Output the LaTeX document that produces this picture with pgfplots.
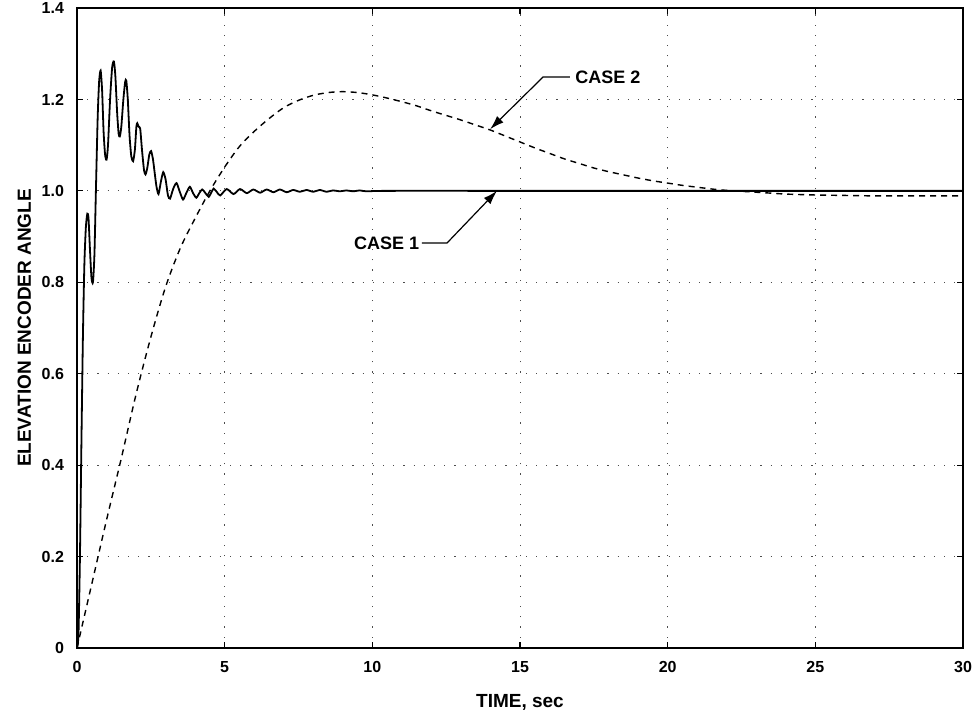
\documentclass[border=0pt]{standalone}
\usepackage{fontspec}
\setmainfont{Liberation Sans}
\usepackage{pgfplots}
\pgfplotsset{compat=1.18}
\usetikzlibrary{arrows.meta}
\begin{document}
\begin{tikzpicture}
\begin{axis}[
  scale only axis,
  width=443pt, height=320pt,
  xmin=0, xmax=30, ymin=0, ymax=1.4,
  xtick={0,5,10,15,20,25,30},
  xticklabels={0,5,10,15,20,25,30},
  ytick={0,0.2,0.4,0.6,0.8,1.0,1.2,1.4},
  yticklabels={0,0.2,0.4,0.6,0.8,1.0,1.2,1.4},
  tick align=inside, tick pos=both,
  major tick length=3pt,
  every tick/.style={black, line width=0.6pt},
  axis line style={line width=0.8pt},
  ticklabel style={font=\fontsize{8}{9}\selectfont\bfseries},
  xticklabel style={yshift=-3pt},
  yticklabel style={xshift=-3pt},
  grid=major,
  major grid style={black!70, line width=0.5pt, dash pattern=on 0.6pt off 4.5pt},
  xlabel={TIME, sec},
  ylabel={ELEVATION ENCODER ANGLE},
  label style={font=\fontsize{9.5}{10}\selectfont\bfseries},
  xlabel style={yshift=-4pt},
  ylabel style={yshift=-1.5pt},
  clip=true,
]
% CASE 1 (solid)
\addplot[black, line width=0.9pt, smooth, tension=0.4] coordinates {
(0,0) (0.05,0.03) (0.1,0.2) (0.15,0.45) (0.2,0.68) (0.25,0.84) (0.3,0.92) (0.35,0.95)
(0.39,0.94) (0.44,0.87) (0.49,0.81) (0.54,0.80) (0.59,0.86) (0.64,1.0) (0.70,1.16)
(0.75,1.24) (0.80,1.263) (0.85,1.22) (0.90,1.13) (0.95,1.08) (1.00,1.068) (1.05,1.10)
(1.12,1.20) (1.19,1.27) (1.25,1.283) (1.30,1.25) (1.36,1.17) (1.41,1.125) (1.45,1.119)
(1.50,1.14) (1.57,1.20) (1.63,1.238) (1.67,1.241) (1.72,1.20) (1.78,1.12) (1.84,1.075)
(1.90,1.065) (1.96,1.09) (2.01,1.14) (2.04,1.148) (2.09,1.14) (2.14,1.136) (2.20,1.09)
(2.27,1.045) (2.32,1.036) (2.38,1.05) (2.45,1.08) (2.51,1.087) (2.57,1.07) (2.62,1.045)
(2.69,1.01) (2.76,0.993) (2.84,1.02) (2.92,1.041) (3.00,1.025) (3.08,0.99) (3.15,0.983)
(3.26,1.005) (3.37,1.017) (3.48,0.998) (3.59,0.981) (3.70,0.995) (3.82,1.009) (3.93,0.995)
(4.04,0.985) (4.14,0.995) (4.24,1.003) (4.35,0.995) (4.46,0.987) (4.55,0.997) (4.63,1.005)
(4.74,0.997) (4.85,0.990) (5.07,1.004) (5.30,0.993) (5.52,1.004) (5.75,0.995) (5.97,1.003)
(6.20,0.996) (6.42,1.003) (6.65,0.997) (6.87,1.003) (7.10,0.997) (7.32,1.002) (7.55,0.998)
(7.77,1.002) (8.0,0.998) (8.22,1.002) (8.45,0.998) (8.67,1.001) (8.9,0.999) (9.12,1.001)
(9.35,0.999) (9.57,1.001) (9.8,0.999) (10.5,1.0) (15,1.0) (20,1.0) (25,1.0) (30,1.0)
};
% CASE 2 (dashed)
\addplot[black, line width=0.7pt, smooth, dash pattern=on 3pt off 2.5pt] coordinates {
(0,0) (0.5,0.14) (1.0,0.28) (1.5,0.415) (2.0,0.555) (2.5,0.68) (3.0,0.79) (3.5,0.875)
(4.0,0.94) (4.5,1.0) (5.0,1.052) (5.5,1.097) (6.0,1.13) (6.5,1.158) (7.0,1.182) (7.5,1.198)
(8.0,1.209) (8.5,1.215) (9.0,1.217) (9.5,1.215) (10,1.21) (10.5,1.203) (11,1.195)
(11.5,1.186) (12,1.175) (12.5,1.165) (13,1.155) (13.5,1.144) (14,1.133) (14.5,1.12)
(15,1.107) (15.5,1.094) (16,1.082) (16.5,1.07) (17,1.06) (17.5,1.05) (18,1.042)
(18.5,1.035) (19,1.028) (19.5,1.022) (20,1.017) (20.5,1.012) (21,1.008) (21.5,1.004)
(22,1.001) (22.5,0.999) (23,0.997) (23.5,0.995) (24,0.993) (25,0.991) (26,0.99)
(27,0.989) (28,0.989) (30,0.989)
};
% annotations
\draw[line width=0.6pt, -{Latex[length=7pt,width=4.5pt]}]
  (axis cs:16.69,1.249) -- (axis cs:15.78,1.249) -- (axis cs:13.99,1.135);
\node[anchor=west, inner sep=0pt, font=\fontsize{9}{10}\selectfont\bfseries] at (axis cs:16.86,1.249) {CASE 2};
\draw[line width=0.6pt, -{Latex[length=7pt,width=4.5pt]}]
  (axis cs:11.68,0.886) -- (axis cs:12.53,0.886) -- (axis cs:14.22,1.0);
\node[anchor=east, inner sep=0pt, font=\fontsize{9}{10}\selectfont\bfseries] at (axis cs:11.6,0.886) {CASE 1};
\end{axis}
\pgfresetboundingbox
\path ([shift={(-38.5pt,-33pt)}]current axis.south west) rectangle ([shift={(4.5pt,4pt)}]current axis.north east);
\end{tikzpicture}
\end{document}
